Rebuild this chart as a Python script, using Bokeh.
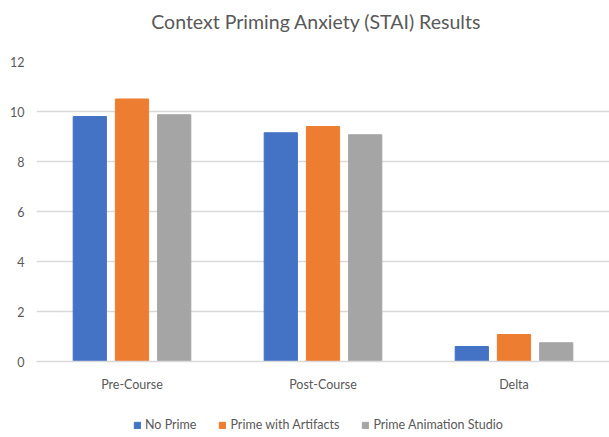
from bokeh.plotting import figure
from bokeh.layouts import column
from bokeh.models import ColumnDataSource, FactorRange, Range1d, Legend, LegendItem, SingleIntervalTicker, Label
from bokeh.transform import dodge
from bokeh.embed import file_html
from bokeh.resources import INLINE

title_text = "Context Priming Anxiety (STAI) Results"
categories = ["Pre-Course", "Post-Course", "Delta"]
series_names = ["No Prime", "Prime with Artifacts", "Prime Animation Studio"]
no_prime = [9.8, 9.15, 0.6]
prime_artifacts = [10.5, 9.4, 1.08]
prime_animation = [9.87, 9.07, 0.75]
colors = ["#4472C4", "#ED7D31", "#A5A5A5"]

source = ColumnDataSource(dict(cat=categories, a=no_prime, b=prime_artifacts, c=prime_animation))

FONT = "Lato"
TXT = "#595959"


def strip(h):
    f = figure(width=609, height=h, x_range=Range1d(0, 609), y_range=Range1d(0, h),
               output_backend="svg", toolbar_location=None,
               min_border_left=0, min_border_right=0, min_border_top=0, min_border_bottom=0)
    f.axis.visible = False
    f.grid.grid_line_color = None
    f.outline_line_color = None
    f.background_fill_color = "white"
    f.border_fill_color = "white"
    return f


# title strip
tf = strip(40)
tf.add_layout(Label(x=122, y=19.5, text=title_text, text_font=FONT, text_font_size="19.5px",
                    text_color=TXT, text_align="left", text_baseline="middle"))

# main chart
p = figure(width=609, height=365, x_range=FactorRange(*categories, range_padding=0),
           y_range=Range1d(0, 12), output_backend="svg", toolbar_location=None,
           min_border_left=36, min_border_right=0, min_border_top=21, min_border_bottom=44)
p.outline_line_color = None
p.background_fill_color = "white"
p.border_fill_color = "white"

offs = [-0.221, 0.0, 0.221]
for col, off, c in zip(["a", "b", "c"], offs, colors):
    p.vbar(x=dodge("cat", off, range=p.x_range), top=col, width=0.174, source=source,
           fill_color=c, line_color=c, line_width=1)

p.xgrid.grid_line_color = None
p.ygrid.grid_line_color = "#D9D9D9"
p.ygrid.grid_line_width = 1.5
p.yaxis.ticker = SingleIntervalTicker(interval=2)
p.yaxis.axis_line_color = None
p.yaxis.major_tick_line_color = None
p.yaxis.minor_tick_line_color = None
p.yaxis.major_label_text_font = FONT
p.yaxis.major_label_text_font_size = "12.5px"
p.yaxis.major_label_text_color = TXT
p.yaxis.major_label_standoff = 6

p.xaxis.axis_line_color = "#D9D9D9"
p.xaxis.axis_line_width = 1.5
p.xaxis.major_tick_line_color = None
p.xaxis.minor_tick_line_color = None
p.xaxis.major_label_text_font = FONT
p.xaxis.major_label_text_font_size = "12.5px"
p.xaxis.major_label_text_color = TXT
p.xaxis.major_label_standoff = 9

# legend strip below the chart
lf = strip(32)
items = []
for c, name in zip(colors, series_names):
    r = lf.vbar(x=[-50], top=[-50], width=1, fill_color=c, line_color=c)
    items.append(LegendItem(label=name, renderers=[r]))

legend = Legend(items=items, orientation="horizontal", location=(97, 5))
legend.label_text_font = FONT
legend.label_text_font_size = "12.5px"
legend.label_text_color = TXT
legend.glyph_width = 8
legend.glyph_height = 8
legend.spacing = 22
legend.label_standoff = 4
legend.border_line_color = None
legend.background_fill_alpha = 0
legend.padding = 4
legend.margin = 0
lf.add_layout(legend, "center")

open("out.html", "w").write(file_html(column(tf, p, lf, spacing=0), INLINE))
